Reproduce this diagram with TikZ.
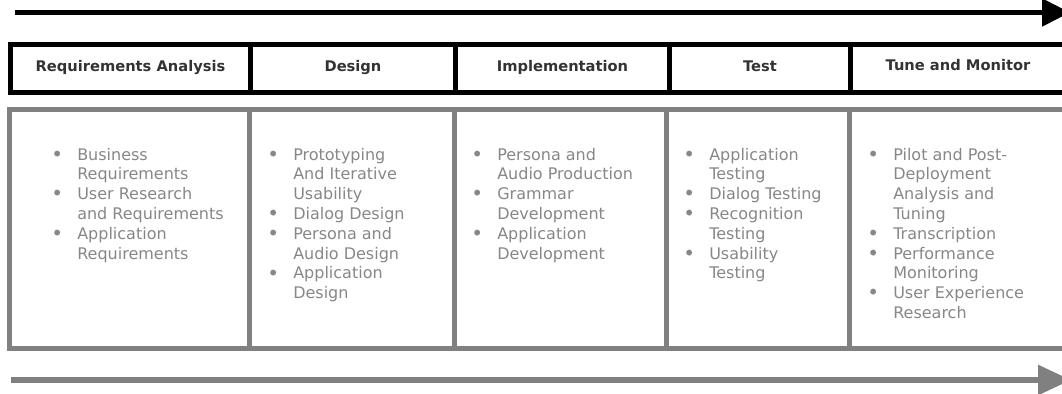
\documentclass[tikz,border=0pt]{standalone}
\usepackage{fontspec}
\setmainfont{DejaVu Sans}
\usetikzlibrary{arrows.meta}
\definecolor{framegray}{HTML}{808080}
\definecolor{itemgray}{HTML}{878787}
\definecolor{headink}{HTML}{333333}
% bullet hung to the left of an item's first line
\newcommand{\bul}{\llap{\raisebox{-1pt}{\fontsize{15}{15}\selectfont\textbullet}\hspace{10.6pt}}}
% item list whose reference point is the first line's baseline
\newenvironment{itemcol}{\begin{tabular}[t]{@{}l@{}}}{\end{tabular}}
\begin{document}
\begin{tikzpicture}[x=0.75pt,y=-0.75pt,
  phase/.style={font=\bfseries\fontsize{11}{13}\selectfont, text=headink, anchor=base, inner sep=0pt},
  items/.style={font=\fontsize{12}{14.85}\selectfont, text=itemgray, anchor=base west, inner sep=0pt},
  headline/.style={draw=black, line width=3.75pt},
  bodyline/.style={draw=framegray, line width=3.75pt},
  flowtop/.style={draw=black, line width=3.75pt, -{Triangle[length=21pt,width=20.25pt]}},
  flowbottom/.style={draw=framegray, line width=4.5pt, -{Triangle[length=24.75pt,width=21.75pt]}}]
\useasboundingbox (0,0) rectangle (1062,393);
\clip (0,0) rectangle (1062,393);

% time arrow above the phases
\coordinate (topstart) at (15,12.5);
\coordinate (topend) at (1070,12.5);
\draw[flowtop] (topstart) -- (topend);

% phase header row
\draw[headline] (10.5,44.5) rectangle (1075,92.5);
\draw[headline] (250.5,44.5) -- (250.5,92.5);
\draw[headline] (455.5,44.5) -- (455.5,92.5);
\draw[headline] (669.5,44.5) -- (669.5,92.5);
\draw[headline] (850.5,44.5) -- (850.5,92.5);

\node[phase] (hreq)  at (130.5,71) {Requirements Analysis};
\node[phase] (hdes)  at (353,71)   {Design};
\node[phase] (himp)  at (562.5,71) {Implementation};
\node[phase] (htest) at (760,71)   {Test};
\node[phase] (htune) at (958,70)   {Tune and Monitor};

% activity row
\draw[bodyline] (9.5,109.5) rectangle (1075,348.5);
\draw[bodyline] (249.5,109.5) -- (249.5,348.5);
\draw[bodyline] (454.5,109.5) -- (454.5,348.5);
\draw[bodyline] (666,109.5) -- (666,348.5);
\draw[bodyline] (849.5,109.5) -- (849.5,348.5);

\node[items] (ireq) at (77,160) {\begin{itemcol}\bul Business\\Requirements\\\bul User Research\\and Requirements\\\bul Application\\Requirements\end{itemcol}};
\node[items] (ides) at (293,160) {\begin{itemcol}\bul Prototyping\\And Iterative\\Usability\\\bul Dialog Design\\\bul Persona and\\Audio Design\\\bul Application\\Design\end{itemcol}};
\node[items] (iimp) at (497,160) {\begin{itemcol}\bul Persona and\\Audio Production\\\bul Grammar\\Development\\\bul Application\\Development\end{itemcol}};
\node[items] (itest) at (709,160) {\begin{itemcol}\bul Application\\Testing\\\bul Dialog Testing\\\bul Recognition\\Testing\\\bul Usability\\Testing\end{itemcol}};
\node[items] (itune) at (893,160) {\begin{itemcol}\bul Pilot and Post-\\Deployment\\Analysis and\\Tuning\\\bul Transcription\\\bul Performance\\Monitoring\\\bul User Experience\\Research\end{itemcol}};

% time arrow below the phases
\coordinate (botstart) at (11,380);
\coordinate (botend) at (1071,380);
\draw[flowbottom] (botstart) -- (botend);
\end{tikzpicture}
\end{document}
